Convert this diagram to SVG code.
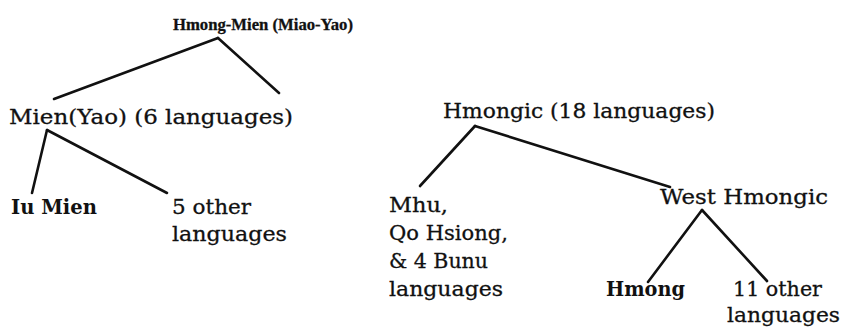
<svg xmlns="http://www.w3.org/2000/svg" width="843" height="334" viewBox="0 0 843 334">
  <style>
    text { font-family: "DejaVu Serif", "Liberation Serif", serif; fill: #111; }
    .n { font-size: 21px; stroke: #111; stroke-width: 0.3; }
    .b { font-size: 20px; font-weight: bold; }
    .t { font-family: "Liberation Serif", "DejaVu Serif", serif; font-size: 17px; font-weight: bold; stroke: #111; stroke-width: 0.3; }
    .edge { stroke: #111; stroke-width: 2.6; stroke-linecap: round; fill: none; }
  </style>
  <rect width="843" height="334" fill="#fff"/>

  <g id="connectors">
    <path class="edge" d="M218 38 L54 99"/>
    <path class="edge" d="M218 38 L279 93"/>
    <path class="edge" d="M47 130 L32 193"/>
    <path class="edge" d="M47 130 L167 193"/>
    <path class="edge" d="M475 126 L420 186"/>
    <path class="edge" d="M475 126 L670 187"/>
    <path class="edge" d="M702 210 L648 282"/>
    <path class="edge" d="M702 210 L767 281"/>
  </g>

  <g id="hmong-mien">
    <text class="t" x="173" y="30" textLength="180" lengthAdjust="spacingAndGlyphs">Hmong-Mien (Miao-Yao)</text>
  </g>
  <g id="mien">
    <text class="n" x="9" y="124" textLength="284" lengthAdjust="spacingAndGlyphs">Mien(Yao) (6 languages)</text>
  </g>
  <g id="hmongic">
    <text class="n" x="443" y="118" textLength="272" lengthAdjust="spacingAndGlyphs">Hmongic (18 languages)</text>
  </g>
  <g id="iu-mien">
    <text class="b" x="11" y="214" textLength="86" lengthAdjust="spacingAndGlyphs">Iu Mien</text>
  </g>
  <g id="mien-other">
    <text class="n" x="172" y="214" textLength="79" lengthAdjust="spacingAndGlyphs">5 other</text>
    <text class="n" x="172" y="241" textLength="115" lengthAdjust="spacingAndGlyphs">languages</text>
  </g>
  <g id="mhu-group">
    <text class="n" x="389" y="212" textLength="59" lengthAdjust="spacingAndGlyphs">Mhu,</text>
    <text class="n" x="389" y="240" textLength="119" lengthAdjust="spacingAndGlyphs">Qo Hsiong,</text>
    <text class="n" x="389" y="268" textLength="99" lengthAdjust="spacingAndGlyphs">&amp; 4 Bunu</text>
    <text class="n" x="389" y="296" textLength="114" lengthAdjust="spacingAndGlyphs">languages</text>
  </g>
  <g id="west-hmongic">
    <text class="n" x="660" y="204" textLength="168" lengthAdjust="spacingAndGlyphs">West Hmongic</text>
  </g>
  <g id="hmong">
    <text class="b" x="606" y="296" textLength="79" lengthAdjust="spacingAndGlyphs">Hmong</text>
  </g>
  <g id="west-other">
    <text class="n" x="733" y="296" textLength="89" lengthAdjust="spacingAndGlyphs">11 other</text>
    <text class="n" x="727" y="322" textLength="113" lengthAdjust="spacingAndGlyphs">languages</text>
  </g>
</svg>
